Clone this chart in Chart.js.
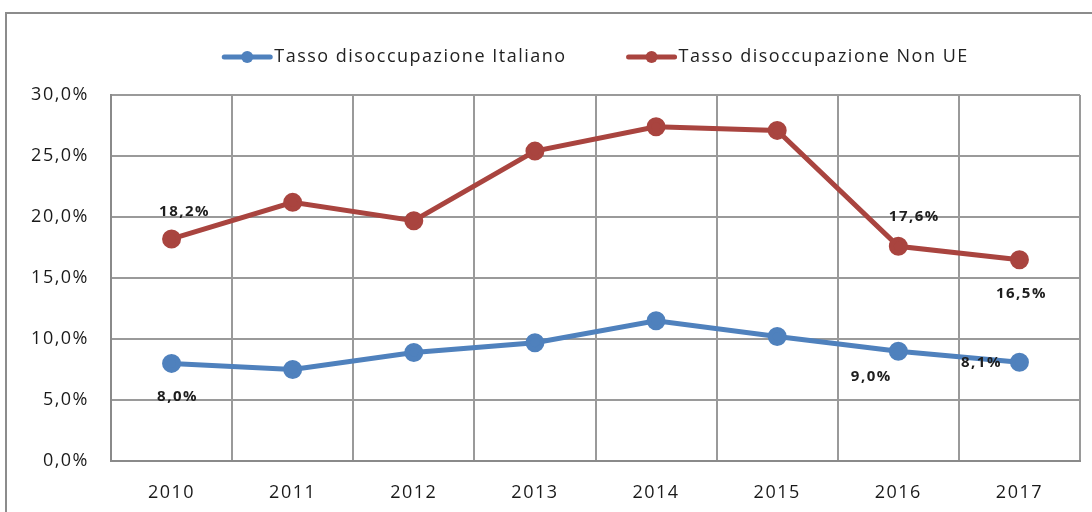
<!DOCTYPE html>
<html>
<head>
<meta charset="utf-8">
<script src="https://cdn.jsdelivr.net/npm/chart.js@4.4.1/dist/chart.umd.min.js"></script>
<style>
html,body{margin:0;padding:0;background:#fff;}
#wrap{position:relative;width:1092px;height:512px;overflow:hidden;}
#frame{position:absolute;left:5px;top:12px;width:1200px;height:600px;border-left:2px solid #8c8c8c;border-top:2px solid #8c8c8c;box-sizing:border-box;}
canvas{position:absolute;left:0;top:0;}
</style>
</head>
<body>
<div id="wrap"><div id="frame"></div><canvas id="c" width="1092" height="512"></canvas></div>
<script>
const years = ['2010','2011','2012','2013','2014','2015','2016','2017'];
const italiano = [8.0, 7.5, 8.9, 9.7, 11.5, 10.2, 9.0, 8.1];
const nonUE = [18.2, 21.2, 19.7, 25.4, 27.4, 27.1, 17.6, 16.5];
const italianoLabels = ['8,0%', null, null, null, null, null, '9,0%', '8,1%'];
const nonUELabels = ['18,2%', null, null, null, null, null, '17,6%', '16,5%'];
const seriesNames = ['Tasso disoccupazione Italiano', 'Tasso disoccupazione Non UE'];

const BLUE = '#4f81bd', RED = '#a9443f';
const FONT = "'Open Sans', 'DejaVu Sans', sans-serif";
const SPACING = '1.5px';

// label offsets (pixels from point) per dataset index
const labelOffsets = [
  [[6, 33], null, null, null, null, null, [-27, 26], [-38, 1]],
  [[13, -27], null, null, null, null, null, [16, -30], [2, 34]]
];

const spacingPlugin = {
  id: 'spacing',
  beforeInit(chart) { chart.ctx.letterSpacing = SPACING; },
  beforeUpdate(chart) { chart.ctx.letterSpacing = SPACING; },
  beforeDraw(chart) { chart.ctx.letterSpacing = SPACING; }
};

const dataLabelPlugin = {
  id: 'dataLabels',
  afterDatasetsDraw(chart) {
    const ctx = chart.ctx;
    ctx.save();
    ctx.letterSpacing = '1.5px';
    ctx.font = "bold 15px " + FONT;
    ctx.fillStyle = '#1e1e1e';
    ctx.textAlign = 'center';
    ctx.textBaseline = 'middle';
    chart.data.datasets.forEach((ds, di) => {
      const meta = chart.getDatasetMeta(di);
      ds.pointLabels.forEach((lab, i) => {
        if (!lab) return;
        const p = meta.data[i];
        const off = labelOffsets[di][i];
        ctx.fillText(lab, p.x + off[0], p.y + off[1]);
      });
    });
    ctx.restore();
  }
};

const legendPlugin = {
  id: 'customLegend',
  afterDraw(chart) {
    const ctx = chart.ctx;
    ctx.save();
    ctx.letterSpacing = SPACING;
    ctx.font = "18px " + FONT;
    ctx.textBaseline = 'middle';
    const lineW = 50, gap = 2, itemGap = 60;
    const items = chart.data.datasets.map(ds => ({label: ds.label, color: ds.borderColor, w: lineW + gap + ctx.measureText(ds.label).width}));
    const total = items.reduce((s, it) => s + it.w, 0) + itemGap * (items.length - 1);
    const cx = (chart.chartArea.left + chart.chartArea.right) / 2;
    let x = cx - total / 2;
    const y = 57;
    items.forEach(it => {
      ctx.strokeStyle = it.color;
      ctx.lineWidth = 5;
      ctx.lineCap = 'round';
      ctx.beginPath(); ctx.moveTo(x + 2, y); ctx.lineTo(x + lineW - 2, y); ctx.stroke();
      ctx.fillStyle = it.color;
      ctx.beginPath(); ctx.arc(x + lineW / 2, y, 6, 0, Math.PI * 2); ctx.fill();
      ctx.fillStyle = '#222';
      ctx.fillText(it.label, x + lineW + gap, y);
      x += it.w + itemGap;
    });
    ctx.restore();
  }
};

new Chart(document.getElementById('c'), {
  type: 'line',
  data: {
    labels: years,
    datasets: [
      {label: seriesNames[0], data: italiano, pointLabels: italianoLabels, borderColor: BLUE, backgroundColor: BLUE, borderWidth: 5, pointRadius: 7, pointHoverRadius: 7, tension: 0},
      {label: seriesNames[1], data: nonUE, pointLabels: nonUELabels, borderColor: RED, backgroundColor: RED, borderWidth: 5, pointRadius: 7, pointHoverRadius: 7, tension: 0}
    ]
  },
  options: {
    responsive: false,
    animation: false,
    layout: {padding: {left: 0, right: 9, top: 95, bottom: 0}},
    plugins: {legend: {display: false}, tooltip: {enabled: false}},
    scales: {
      x: {
        offset: true,
        grid: {offset: true, color: '#9a9a9a', lineWidth: 2, drawTicks: false},
        border: {color: '#8a8a8a', width: 2},
        ticks: {color: '#1a1a1a', font: {family: FONT, size: 18}, padding: 21},
        afterFit(s) { s.height = 51; }
      },
      y: {
        min: 0, max: 30,
        grid: {color: '#9a9a9a', lineWidth: 2, drawTicks: false},
        border: {color: '#8a8a8a', width: 2},
        ticks: {stepSize: 5, color: '#1a1a1a', font: {family: FONT, size: 18}, padding: 22,
          callback: v => v.toFixed(1).replace('.', ',') + '%'},
        afterFit(s) { s.width = 111; }
      }
    }
  },
  plugins: [spacingPlugin, dataLabelPlugin, legendPlugin]
});
</script>
</body>
</html>
